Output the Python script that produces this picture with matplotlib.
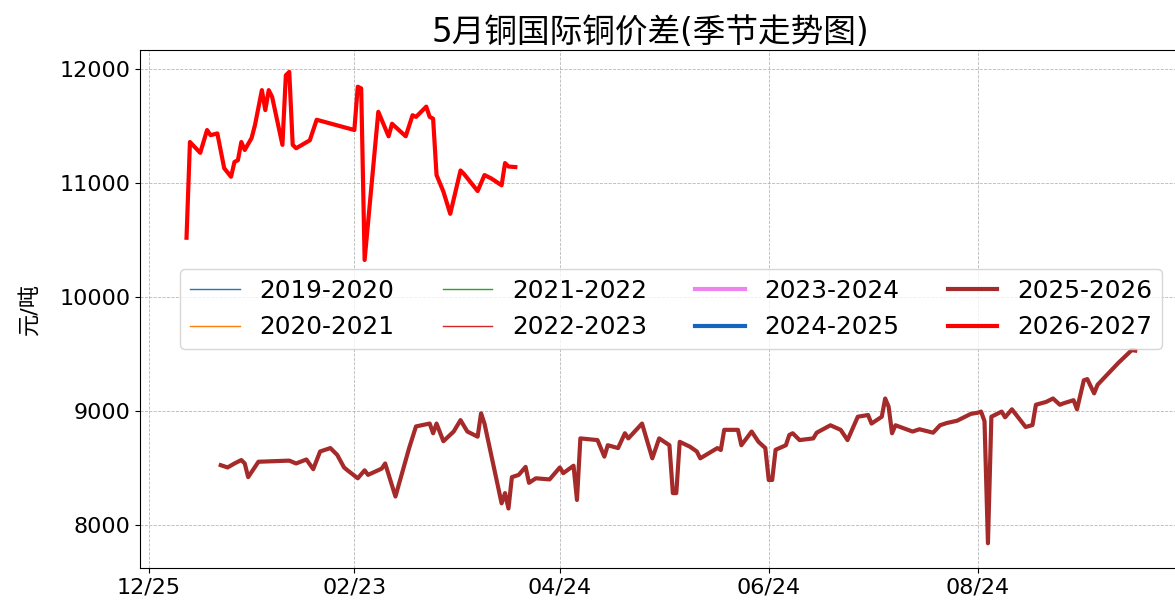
import numpy as np
import pandas as pd
import matplotlib
matplotlib.use('Agg')
from matplotlib import pyplot as plt
import matplotlib.dates as mdates

plt.rcParams['font.family'] = ['DejaVu Sans', 'Noto Sans CJK SC']
plt.rcParams['axes.unicode_minus'] = False

# series with no points in the visible window (legend only)
empty_series = ['2019-2020', '2020-2021', '2021-2022', '2022-2023', '2023-2024', '2024-2025']

# 2025-2026 season (mapped onto a common Dec-Oct calendar)
dates_2526 = ['2026-01-15', '2026-01-17', '2026-01-19', '2026-01-21', '2026-01-22', '2026-01-23',
              '2026-01-26', '2026-02-04', '2026-02-06', '2026-02-09', '2026-02-11', '2026-02-13',
              '2026-02-16', '2026-02-18', '2026-02-20', '2026-02-21', '2026-02-24', '2026-02-26',
              '2026-02-27', '2026-03-03', '2026-03-04', '2026-03-07', '2026-03-11', '2026-03-13',
              '2026-03-17', '2026-03-18', '2026-03-19', '2026-03-21', '2026-03-24', '2026-03-26',
              '2026-03-28', '2026-03-31', '2026-04-01', '2026-04-02', '2026-04-07', '2026-04-08',
              '2026-04-09', '2026-04-10', '2026-04-12', '2026-04-14', '2026-04-15', '2026-04-17',
              '2026-04-21', '2026-04-24', '2026-04-25', '2026-04-28', '2026-04-29', '2026-04-30',
              '2026-05-05', '2026-05-07', '2026-05-08', '2026-05-11', '2026-05-13', '2026-05-14',
              '2026-05-18', '2026-05-21', '2026-05-23', '2026-05-26', '2026-05-27', '2026-05-28',
              '2026-05-29', '2026-06-01', '2026-06-03', '2026-06-04', '2026-06-09', '2026-06-10',
              '2026-06-11', '2026-06-15', '2026-06-16', '2026-06-19', '2026-06-21', '2026-06-23',
              '2026-06-24', '2026-06-25', '2026-06-26', '2026-06-29', '2026-06-30', '2026-07-01',
              '2026-07-03', '2026-07-07', '2026-07-08', '2026-07-12', '2026-07-15', '2026-07-17',
              '2026-07-20', '2026-07-23', '2026-07-24', '2026-07-27', '2026-07-28', '2026-07-29',
              '2026-07-30', '2026-07-31', '2026-08-05', '2026-08-07', '2026-08-11', '2026-08-13',
              '2026-08-15', '2026-08-18', '2026-08-22', '2026-08-24', '2026-08-25', '2026-08-26',
              '2026-08-27', '2026-08-28', '2026-08-31', '2026-09-01', '2026-09-03', '2026-09-07',
              '2026-09-09', '2026-09-10', '2026-09-13', '2026-09-15', '2026-09-17', '2026-09-18',
              '2026-09-21', '2026-09-22', '2026-09-24', '2026-09-25', '2026-09-27', '2026-09-28',
              '2026-10-04', '2026-10-08', '2026-10-09']
vals_2526 = [8525, 8505, 8540, 8570, 8540, 8420,
             8555, 8565, 8540, 8575, 8490, 8645,
             8675, 8615, 8505, 8480, 8410, 8480,
             8440, 8495, 8540, 8250, 8675, 8865,
             8890, 8805, 8890, 8735, 8820, 8920,
             8820, 8775, 8980, 8890, 8190, 8280,
             8145, 8420, 8440, 8510, 8370, 8410,
             8400, 8505, 8455, 8520, 8220, 8760,
             8745, 8600, 8700, 8675, 8805, 8760,
             8890, 8585, 8760, 8700, 8280, 8280,
             8730, 8687, 8645, 8585, 8675, 8658,
             8835, 8835, 8700, 8820, 8730, 8675,
             8395, 8395, 8660, 8700, 8790, 8805,
             8745, 8760, 8810, 8875, 8835, 8745,
             8950, 8965, 8890, 8950, 9110, 9038,
             8805, 8875, 8820, 8840, 8810, 8875,
             8895, 8915, 8975, 8985, 8995, 8910,
             7840, 8950, 8995, 8945, 9015, 8860,
             8877, 9055, 9080, 9110, 9055, 9067,
             9095, 9015, 9270, 9280, 9155, 9230,
             9420, 9535, 9530]

# 2026-2027 season
dates_2627 = ['2026-01-05', '2026-01-06', '2026-01-09', '2026-01-11', '2026-01-12', '2026-01-14',
              '2026-01-16', '2026-01-18', '2026-01-19', '2026-01-20', '2026-01-21', '2026-01-22',
              '2026-01-24', '2026-01-25', '2026-01-27', '2026-01-28', '2026-01-29', '2026-01-30',
              '2026-02-02', '2026-02-03', '2026-02-04', '2026-02-05', '2026-02-06', '2026-02-10',
              '2026-02-12', '2026-02-23', '2026-02-24', '2026-02-25', '2026-02-26', '2026-03-02',
              '2026-03-05', '2026-03-06', '2026-03-10', '2026-03-12', '2026-03-13', '2026-03-14',
              '2026-03-16', '2026-03-17', '2026-03-18', '2026-03-19', '2026-03-21', '2026-03-23',
              '2026-03-26', '2026-03-27', '2026-03-31', '2026-04-02', '2026-04-04', '2026-04-07',
              '2026-04-08', '2026-04-09', '2026-04-11']
vals_2627 = [10520, 11360, 11265, 11465, 11420, 11435,
             11130, 11055, 11185, 11200, 11360, 11290,
             11395, 11510, 11815, 11640, 11815, 11755,
             11335, 11945, 11975, 11335, 11305, 11375,
             11555, 11465, 11845, 11830, 10325, 11625,
             11410, 11520, 11410, 11595, 11580, 11610,
             11670, 11580, 11565, 11070, 10925, 10730,
             11110, 11080, 10930, 11070, 11040, 10980,
             11175, 11145, 11140]

tick_dates = ['2025-12-25', '2026-02-23', '2026-04-24', '2026-06-24', '2026-08-24']

W, H = 1175, 604
fig = plt.figure(figsize=(W / 100, H / 100), dpi=100)
ax = fig.add_axes([140 / W, 36 / H, (1202 - 140) / W, (568 - 50) / H])

thin_colors = ['#1f77b4', '#ff7f0e', '#2ca02c', '#d62728']
for i, name in enumerate(empty_series[:4]):
    ax.plot([], [], color=thin_colors[i], linewidth=1, label=name)
ax.plot([], [], color='violet', linewidth=3, label='2023-2024')
ax.plot([], [], color='#1565c0', linewidth=3, label='2024-2025')
ax.plot(pd.to_datetime(dates_2526), vals_2526, color='#a52a2a', linewidth=3, label='2025-2026')
ax.plot(pd.to_datetime(dates_2627), vals_2627, color='#ff0000', linewidth=3, label='2026-2027')

ax.set_xlim(pd.Timestamp('2025-12-22 10:00'), pd.Timestamp('2026-10-28 12:00'))
ax.set_ylim(7623, 12167)
ax.set_xticks(pd.to_datetime(tick_dates))
ax.xaxis.set_major_formatter(mdates.DateFormatter('%m/%d'))
ax.set_yticks([8000, 9000, 10000, 11000, 12000])
ax.tick_params(labelsize=16)
ax.grid(True, linestyle='--', linewidth=0.6, color='#999999', alpha=0.7)

t = ax.set_title('5月铜国际铜价差(季节走势图)', fontsize=23.5)
t.set_x((650 - 140) / (1202 - 140))
ax.set_ylabel('元/吨', fontsize=16, labelpad=14)

ax.legend(loc='center', ncol=4, fontsize=17.8, columnspacing=1.95)

fig.savefig('out.png', dpi=100)
